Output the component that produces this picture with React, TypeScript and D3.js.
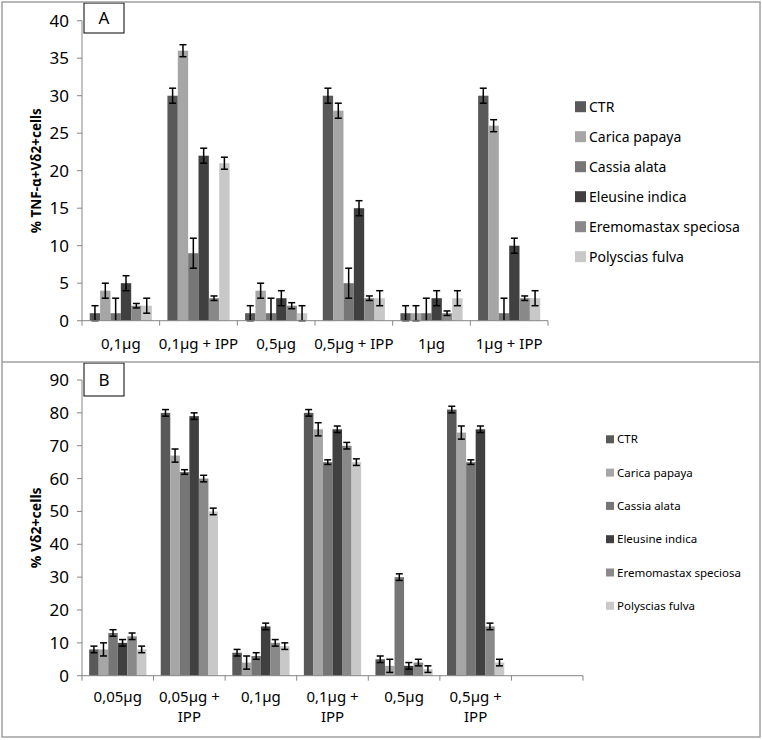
import React from "react";
import * as d3 from "d3";

const seriesNames = ["CTR", "Carica papaya", "Cassia alata", "Eleusine indica", "Eremomastax speciosa", "Polyscias fulva"];
const seriesColors = ["#595959", "#a6a6a6", "#767676", "#404040", "#898989", "#c8c8c8"];

const catsA = ["0,1µg", "0,1µg + IPP", "0,5µg", "0,5µg + IPP", "1µg", "1µg + IPP"];
const valsA = [
  [1, 30, 1, 30, 1, 30],
  [4, 36, 4, 28, 1, 26],
  [1, 9, 1, 5, 1, 1],
  [5, 22, 3, 15, 3, 10],
  [2, 3, 2, 3, 1, 3],
  [2, 21, 1, 3, 3, 3],
];
const errsA = [
  [1, 1, 1, 1, 1, 1],
  [1, 0.8, 1, 1, 1, 0.8],
  [2, 2, 2, 2, 2, 2],
  [1, 1, 1, 1, 1, 1],
  [0.3, 0.3, 0.4, 0.3, 0.3, 0.3],
  [1, 0.8, 1, 1, 1, 1],
];
const ticksA = [0, 5, 10, 15, 20, 25, 30, 35, 40];

const catsB = [["0,05µg"], ["0,05µg +", "IPP"], ["0,1µg"], ["0,1µg +", "IPP"], ["0,5µg"], ["0,5µg +", "IPP"], [""]];
const valsB = [
  [8, 80, 7, 80, 5, 81],
  [8, 67, 4, 75, 3, 74],
  [13, 62, 6, 65, 30, 65],
  [10, 79, 15, 75, 3, 75],
  [12, 60, 10, 70, 4, 15],
  [8, 50, 9, 65, 2, 4],
];
const errsB = [
  [1, 1, 1, 1, 1, 1],
  [2, 2, 2, 2, 2, 2],
  [1, 0.7, 1, 0.7, 1, 0.7],
  [1, 1, 1, 1, 1, 1],
  [1, 1, 1, 1, 1, 1],
  [1, 1, 1, 1, 1, 1],
];
const ticksB = [0, 10, 20, 30, 40, 50, 60, 70, 80, 90];

const FONT = "'Noto Sans', 'Open Sans', sans-serif";
const AXIS = "#868686";

type PanelProps = {
  cats: string[][];
  vals: number[][];
  errs: number[][];
  ticks: number[];
  yMax: number;
  top: number;
  bottom: number;
  xLeft: number;
  xRight: number;
  yLabel: string;
  letter: string;
  boxTop: number;
  boxH: number;
  legend: { x: number; y0: number; dy: number; sw: number; fs: number };
  yFs: number;
  xFs: number;
  xLabelY: number;
  yLabelX: number;
  yLabelFs: number;
};

function Panel(p: PanelProps) {
  const y = d3.scaleLinear().domain([0, p.yMax]).range([p.bottom, p.top]);
  const x0 = d3.scaleBand<number>().domain(d3.range(p.cats.length)).range([p.xLeft, p.xRight]).paddingInner(0).paddingOuter(0);
  const x1 = d3.scaleBand<number>().domain(d3.range(seriesNames.length)).range([0, x0.bandwidth()]).paddingInner(0).paddingOuter(0.75);
  const bw = x1.bandwidth();
  const boundaries = d3.range(p.cats.length + 1).map((i) => p.xLeft + i * x0.step());
  const cap = 3.5;
  return (
    <g>
      {/* y axis */}
      <line x1={p.xLeft} x2={p.xLeft} y1={p.top} y2={p.bottom} stroke={AXIS} strokeWidth={1} />
      {p.ticks.map((t) => (
        <g key={t}>
          <line x1={p.xLeft - 5} x2={p.xLeft} y1={y(t)} y2={y(t)} stroke={AXIS} />
          <text x={p.xLeft - 13} y={y(t)} dy="0.35em" textAnchor="end" fontSize={p.yFs} fontFamily={FONT} fill="#000">
            {t}
          </text>
        </g>
      ))}
      {/* bars */}
      {p.vals.map((ser, si) =>
        ser.map((v, ci) => {
          const xb = (x0(ci) as number) + (x1(si) as number);
          return <rect key={`b${si}-${ci}`} x={xb} y={y(v)} width={bw} height={p.bottom - y(v)} fill={seriesColors[si]} />;
        })
      )}
      {/* error bars */}
      {p.vals.map((ser, si) =>
        ser.map((v, ci) => {
          const cx = (x0(ci) as number) + (x1(si) as number) + bw / 2;
          const e = p.errs[si][ci];
          const hi = v + e;
          const loRaw = v - e;
          const lo = Math.max(0, loRaw);
          return (
            <g key={`e${si}-${ci}`} stroke="#000" strokeWidth={1.5}>
              <line x1={cx} x2={cx} y1={y(hi)} y2={y(lo)} />
              <line x1={cx - cap} x2={cx + cap} y1={y(hi)} y2={y(hi)} />
              {loRaw >= 0 && <line x1={cx - cap} x2={cx + cap} y1={y(lo)} y2={y(lo)} />}
            </g>
          );
        })
      )}
      {/* x axis */}
      <line x1={p.xLeft} x2={p.xRight} y1={p.bottom} y2={p.bottom} stroke={AXIS} strokeWidth={1} />
      {boundaries.map((bx, i) => (
        <line key={`t${i}`} x1={bx} x2={bx} y1={p.bottom} y2={p.bottom + 5} stroke={AXIS} />
      ))}
      {p.cats.map((lines, ci) => (
        <text key={`c${ci}`} x={(x0(ci) as number) + x0.bandwidth() / 2} y={p.xLabelY} textAnchor="middle" fontSize={p.xFs} fontFamily={FONT} fill="#000">
          {lines.map((l, li) => (
            <tspan key={li} x={(x0(ci) as number) + x0.bandwidth() / 2} dy={li === 0 ? 0 : 19.5}>
              {l}
            </tspan>
          ))}
        </text>
      ))}
      {/* y label */}
      <text
        transform={`translate(${p.yLabelX},${(p.top + p.bottom) / 2}) rotate(-90)`}
        textAnchor="middle"
        dy="0.35em"
        fontSize={p.yLabelFs}
        fontWeight="bold"
        fontFamily={FONT}
        fill="#000"
      >
        {p.yLabel}
      </text>
      {/* letter box */}
      <rect x={84} y={p.boxTop} width={40} height={p.boxH} fill="#fff" stroke="#000" strokeWidth={1} />
      <text x={104} y={p.boxTop + p.boxH / 2} dy="0.36em" textAnchor="middle" fontSize={17} fontFamily={FONT} fill="#000">
        {p.letter}
      </text>
      {/* legend */}
      {seriesNames.map((n, si) => {
        const cy = p.legend.y0 + si * p.legend.dy;
        return (
          <g key={`l${si}`}>
            <rect x={p.legend.x} y={cy - p.legend.sw / 2} width={p.legend.sw} height={p.legend.sw} fill={seriesColors[si]} />
            <text x={p.legend.x + p.legend.sw + 3} y={cy} dy="0.35em" fontSize={p.legend.fs} fontFamily={FONT} fill="#000">
              {n}
            </text>
          </g>
        );
      })}
    </g>
  );
}

export default function App() {
  return (
    <svg width={762} height={740} style={{ position: "absolute", left: 0, top: 0, background: "#fff" }}>
      <rect x={0} y={0} width={762} height={740} fill="#fff" />
      <Panel
        cats={catsA.map((c) => [c])}
        vals={valsA}
        errs={errsA}
        ticks={ticksA}
        yMax={40}
        top={20.7}
        bottom={320.7}
        xLeft={82}
        xRight={548}
        yLabel="% TNF-α+Vδ2+cells"
        letter="A"
        boxTop={3}
        boxH={30}
        legend={{ x: 575, y0: 106.7, dy: 30, sw: 11, fs: 14 }}
        yFs={17}
        xFs={15}
        xLabelY={349}
        yLabelX={36}
        yLabelFs={13.5}
      />
      <Panel
        cats={catsB}
        vals={valsB}
        errs={errsB}
        ticks={ticksB}
        yMax={90}
        top={380}
        bottom={675.7}
        xLeft={82}
        xRight={583}
        yLabel="% Vδ2+cells"
        letter="B"
        boxTop={363}
        boxH={33}
        legend={{ x: 606, y0: 439.3, dy: 33.3, sw: 8, fs: 11.5 }}
        yFs={17}
        xFs={15}
        xLabelY={702}
        yLabelX={36}
        yLabelFs={14}
      />
      {/* frame */}
      <rect x={2} y={2} width={758} height={735} fill="none" stroke="#a0a0a0" strokeWidth={1.5} />
      <line x1={2} x2={760} y1={362} y2={362} stroke="#a0a0a0" strokeWidth={1.5} />
    </svg>
  );
}
